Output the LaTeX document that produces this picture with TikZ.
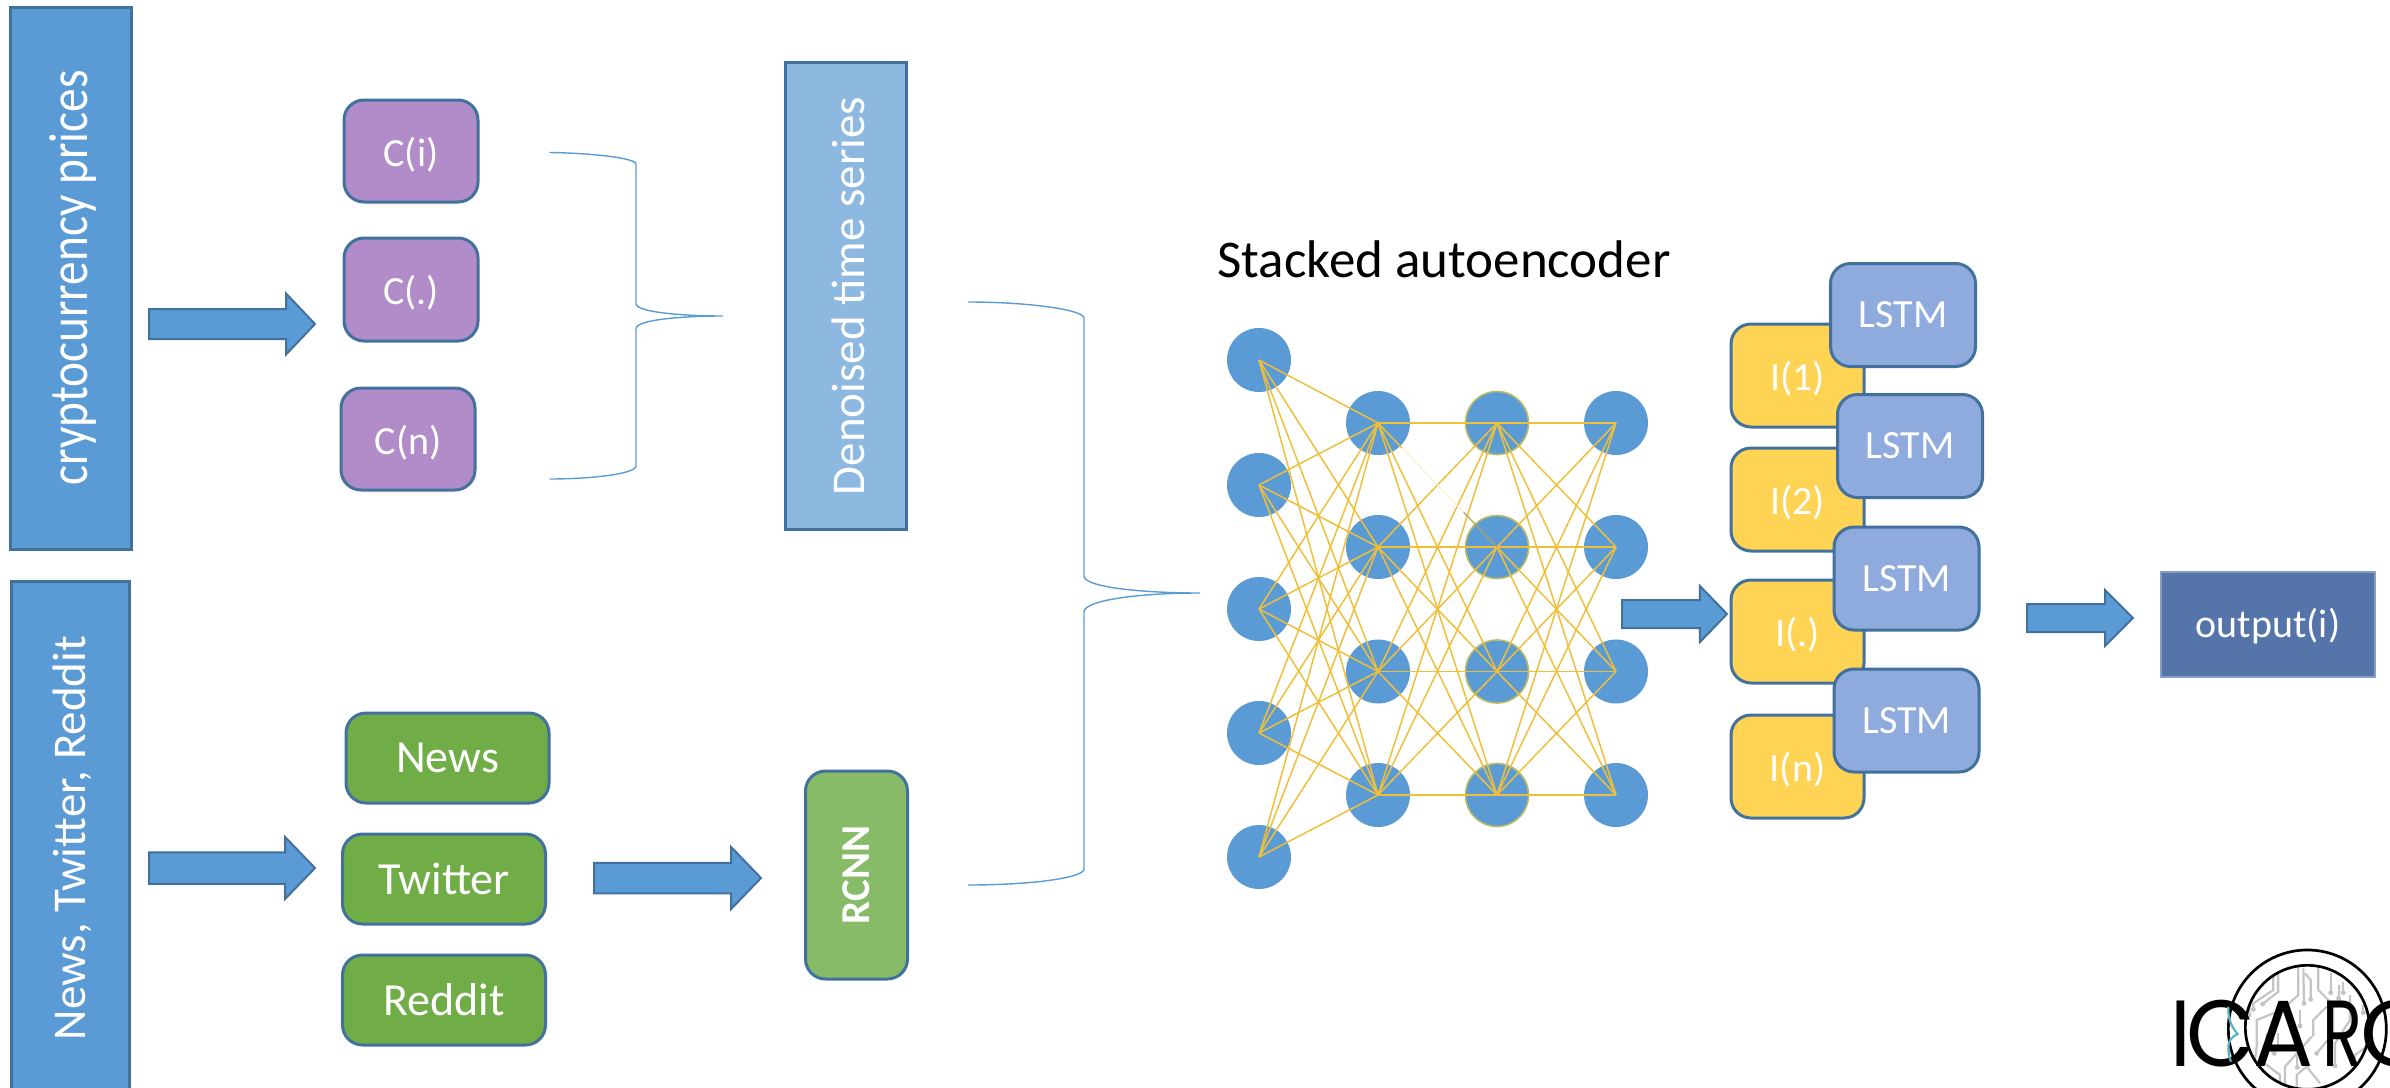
\documentclass[tikz,border=0pt]{standalone}
\usepackage{fontspec}
\usepackage{graphicx}
\setmainfont{Carlito}
\newfontfamily\logofont{Poppins}
\usetikzlibrary{shapes.arrows,calc}
\definecolor{blueA}{HTML}{5B9BD5}
\definecolor{edgeA}{HTML}{41719C}
\definecolor{purpleA}{HTML}{B18CC9}
\definecolor{greenA}{HTML}{70AD47}
\definecolor{greenB}{HTML}{88BB67}
\definecolor{lblue}{HTML}{8DB8E0}
\definecolor{yellowA}{HTML}{FFD455}
\definecolor{lstmA}{HTML}{8FAADC}
\definecolor{outA}{HTML}{5574A9}
\definecolor{gold}{HTML}{EFBF3A}
\definecolor{ringY}{HTML}{B9BC66}
\definecolor{trace}{HTML}{C4C4C4}
\definecolor{teal}{HTML}{55B5C6}
\newcommand{\fs}[1]{\fontsize{#1}{#1}\selectfont}
\tikzset{
  boxbase/.style={draw=edgeA,line width=3pt,text=white,inner sep=0pt,outer sep=0pt,align=center},
  sq/.style={boxbase,rectangle},
  rr/.style={boxbase,rectangle,rounded corners=20pt},
  lowtext/.style={text height=38pt,text depth=8pt},
  blockarrow/.style={shape=single arrow,fill=blueA,draw=edgeA,line width=2pt,inner sep=0pt,outer sep=0pt,single arrow head indent=0pt,text depth=0pt,anchor=tail},
  brace/.style={draw=blueA,line width=1.4pt},
  neuron/.style={circle,fill=blueA,minimum size=64pt,inner sep=0pt,outer sep=0pt},
  synapse/.style={draw=gold,line width=1.5pt},
  logoletter/.style={inner sep=0pt,outer sep=0pt,anchor=base,text=black,font=\logofont\fs{94}},
  tr/.style={draw=trace,line width=2.2pt},
}
\begin{document}
\begin{tikzpicture}[x=1pt,y=-1pt]
\useasboundingbox (0,0) rectangle (2390,1087);
\clip (0,0) rectangle (2390,1087);
% left columns
\node[sq,fill=blueA,minimum width=121pt,minimum height=542pt] (crypto) at (70.5,278) {\kern6pt\rotatebox{90}{\fs{55}\scalebox{.86}[1]{cryptocurrency prices}}};
\node[sq,fill=blueA,minimum width=118pt,minimum height=514pt] (social) at (70,838) {\kern4pt\rotatebox{90}{\fs{47}News, Twitter, Reddit}};
\node[blockarrow,text height=28pt,minimum height=166pt,minimum width=59pt,single arrow head extend=15.5pt,single arrow tip angle=93] (a1) at (149,324) {};
\node[blockarrow,text height=29.5pt,minimum height=166pt,minimum width=60pt,single arrow head extend=15.25pt,single arrow tip angle=92] (a2) at (149,868) {};
% coin boxes
\node[rr,fill=purpleA,lowtext,minimum width=134pt,minimum height=102pt] (ci) at (411,151) {\fs{40}C(i)};
\node[rr,fill=purpleA,lowtext,minimum width=134pt,minimum height=103pt] (cd) at (411,289.5) {\fs{40}C(.)};
\node[rr,fill=purpleA,lowtext,minimum width=134pt,minimum height=102pt] (cn) at (408,439) {\fs{40}C(n)};
% source boxes
\node[rr,fill=greenA,minimum width=203pt,minimum height=90pt] (news) at (447.5,758) {\fs{46}News};
\node[rr,fill=greenA,minimum width=203pt,minimum height=90pt] (twitter) at (444,879) {\fs{46}Twitter};
\node[rr,fill=greenA,minimum width=203pt,minimum height=90pt] (reddit) at (444,1000) {\fs{46}Reddit};
\node[blockarrow,text height=28.5pt,minimum height=167pt,minimum width=60pt,single arrow head extend=15.75pt,single arrow tip angle=92] (a3) at (594,878) {};
% middle
\node[sq,fill=lblue,minimum width=121pt,minimum height=467pt] (denoised) at (845.5,296) {\kern6pt\rotatebox{90}{\fs{47}Denoised time series}};
\node[rr,fill=greenB,minimum width=102pt,minimum height=208pt] (rcnn) at (856.5,875) {\rotatebox{90}{\fs{41}\bfseries RCNN}};
% braces
\coordinate (b1a) at (549.5,152.5);
\coordinate (b1t) at (723,316);
\coordinate (b1z) at (549.5,479);
\draw[brace] (b1a) .. controls (590,153) and (636,158) .. (636,164) -- (636,303.6) .. controls (636,312) and (680,316) .. (b1t) .. controls (680,316) and (636,320) .. (636,328.6) -- (636,466) .. controls (636,474) and (590,479) .. (b1z);
\coordinate (b2a) at (968,302);
\coordinate (b2t) at (1200,593);
\coordinate (b2z) at (968,885);
\draw[brace] (b2a) .. controls (1030,302) and (1084,310) .. (1084,318) -- (1084,576) .. controls (1084,587) and (1140,593) .. (b2t) .. controls (1140,593) and (1084,600) .. (1084,612) -- (1084,869) .. controls (1084,878) and (1030,885) .. (b2z);
% autoencoder
\node[inner sep=0pt,text=black] (title) at (1444,259) {\fs{53}Stacked autoencoder};
\foreach \i/\y in {1/360,2/485,3/609,4/733,5/857}
  \node[neuron] (p\i) at (1259,\y) {};
\foreach \i/\y in {1/423,2/547,3/671.5,4/795}{
  \node[neuron] (q\i) at (1378,\y) {};
  \node[neuron,draw=ringY,line width=1.6pt,minimum size=63pt] (r\i) at (1497,\y) {};
  \node[neuron] (s\i) at (1616,\y) {};
}
\foreach \i in {1,...,5}\foreach \j in {1,...,4}
  \draw[synapse] (p\i.center) -- (q\j.center);
\foreach \i in {1,...,4}\foreach \j in {1,...,4}{
  \ifnum\i=1 \ifnum\j=2 \else \draw[synapse] (q\i.center) -- (r\j.center);\fi
  \else \draw[synapse] (q\i.center) -- (r\j.center);\fi
  \draw[synapse] (r\i.center) -- (s\j.center);
}
\draw[synapse] (q1.center) -- ($(q1.center)!.2!(r2.center)$);
\draw[draw=gold!25,line width=1.2pt] ($(q1.center)!.2!(r2.center)$) -- ($(q1.center)!.72!(r2.center)$);
\draw[draw=gold!50!gray,line width=1.2pt] ($(q1.center)!.72!(r2.center)$) -- (r2.center);
\node[blockarrow,text height=26pt,minimum height=105pt,minimum width=54pt,single arrow head extend=14pt,single arrow tip angle=92] (a4) at (1622,614) {};
% stacks
\node[rr,fill=yellowA,lowtext,minimum width=133pt,minimum height=103pt] (i1) at (1797.5,375.5) {\fs{40}I(1)};
\node[rr,fill=lstmA,minimum width=145pt,minimum height=103pt] (l1) at (1903,315) {\fs{40}LSTM};
\node[rr,fill=yellowA,lowtext,minimum width=133pt,minimum height=103pt] (i2) at (1797.5,499.5) {\fs{40}I(2)};
\node[rr,fill=lstmA,minimum width=145pt,minimum height=103pt] (l2) at (1910,446) {\fs{40}LSTM};
\node[rr,fill=yellowA,lowtext,minimum width=133pt,minimum height=103pt] (i3) at (1797.5,631.5) {\fs{40}I(.)};
\node[rr,fill=lstmA,minimum width=145pt,minimum height=103pt] (l3) at (1906.5,578.5) {\fs{40}LSTM};
\node[rr,fill=yellowA,lowtext,minimum width=133pt,minimum height=103pt] (i4) at (1797.5,766.5) {\fs{40}I(n)};
\node[rr,fill=lstmA,minimum width=145pt,minimum height=103pt] (l4) at (1906.5,720.5) {\fs{40}LSTM};
\node[blockarrow,text height=26pt,minimum height=106pt,minimum width=54pt,single arrow head extend=14pt,single arrow tip angle=90] (a5) at (2027,618) {};
\node[rectangle,fill=outA,draw=outA!70!white,line width=2pt,text=white,inner sep=0pt,text height=34pt,text depth=8pt,minimum width=214pt,minimum height=105pt] (output) at (2268,624.5) {\fs{40}output(i)};
% logo
\begin{scope}[shift={(2100,920)},x=.3333pt,y=-.3333pt]
  \begin{scope}
    \clip (622,322) circle[radius=62pt];
    \draw[tr] (535,155) -- (535,215) -- (488,252);
    \draw[tr] (520,165) -- (520,210) -- (460,250) -- (460,268);
    \draw[tr] (450,245) -- (447,285);
    \draw[tr] (595,135) -- (595,225) -- (545,270) -- (470,300) -- (470,380) -- (465,420);
    \draw[tr] (610,145) -- (612,250);
    \draw[tr] (615,160) -- (632,180) -- (632,238);
    \draw[tr] (655,140) -- (655,210) -- (700,255) -- (700,340) -- (650,400);
    \draw[tr] (692,160) -- (692,218);
    \draw[tr] (730,185) -- (730,218);
    \draw[tr] (718,195) -- (716,235);
    \draw[tr] (750,225) -- (750,300) -- (705,370) -- (705,437);
    \draw[tr] (790,255) -- (790,278);
    \draw[tr] (500,340) -- (500,380) -- (523,400);
    \draw[tr] (535,340) -- (535,387);
    \draw[tr] (600,270) -- (600,318);
    \draw[tr] (640,350) -- (640,300) -- (680,260);
    \draw[tr] (635,350) -- (555,440) -- (555,497);
    \draw[tr] (590,500) -- (590,465) -- (620,440) -- (660,490);
    \draw[tr] (480,420) -- (540,465) -- (540,500);
    \draw[tr] (592,400) -- (592,442);
    \draw[tr] (765,400) -- (765,450) -- (750,480);
    \draw[tr] (800,380) -- (765,405);
    \foreach \a/\b in {488/252,460/268,447/285,612/250,632/238,650/400,692/218,730/218,716/235,705/437,790/278,523/400,535/387,600/318,592/442}
      \fill[trace] (\a,\b) circle[radius=2.5pt];
  \end{scope}
  \draw[black,line width=2.7pt] (622,327) circle[radius=79pt];
  \draw[black,line width=2.7pt] (622,322) circle[radius=62pt];
\end{scope}
\node[logoletter] (lgI) at (2181,1066) {\scalebox{.9}[1]{I}};
\node[logoletter] (lgC) at (2221,1066) {\scalebox{.95}[1]{C}};
\node[logoletter] (lgA) at (2284,1066) {\scalebox{.95}[1]{A}};
\node[logoletter] (lgR) at (2342,1066) {\scalebox{.7}[1]{R}};
\node[logoletter,anchor=base west] (lgO) at (2360,1066) {O};
\begin{scope}[shift={(2100,920)},x=.3333pt,y=-.3333pt]
  \draw[teal,line width=2.2pt] (385,260) .. controls (383,300) and (398,325) .. (413,342) .. controls (395,350) and (383,365) .. (385,385) .. controls (385,400) and (388,412) .. (393,425);
\end{scope}
\end{tikzpicture}
\end{document}
